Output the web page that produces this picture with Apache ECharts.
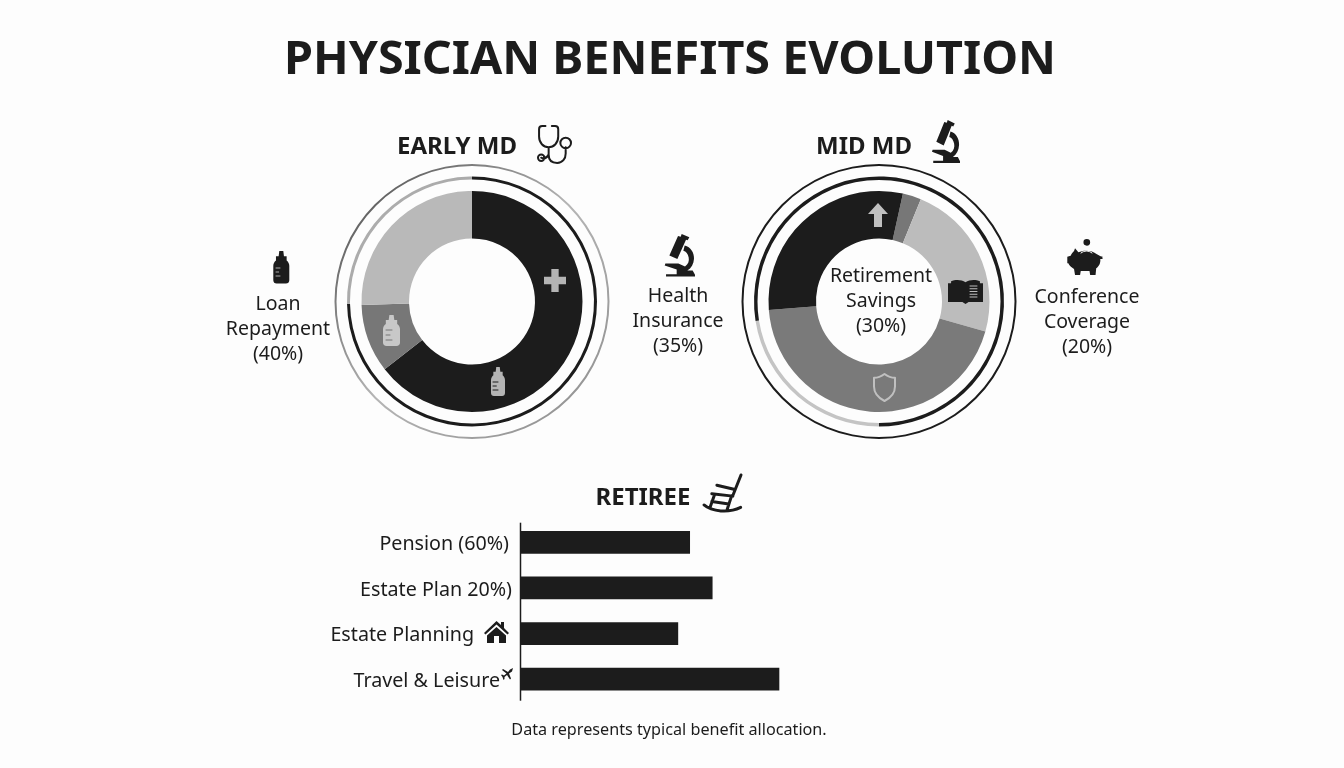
<!DOCTYPE html>
<html>
<head>
<meta charset="utf-8">
<title>Physician Benefits Evolution</title>
<script src="https://cdn.jsdelivr.net/npm/echarts@6/dist/echarts.min.js"></script>
<style>
html, body { margin: 0; padding: 0; background: #fdfdfd; }
#main { width: 1344px; height: 768px; }
</style>
</head>
<body>
<div id="main"></div>
<script>
var FONT = '"Noto Sans", sans-serif';
var INK = '#1c1c1c';

// values (share of the ring, %)
var earlyValues = [64.5, 10, 25.5];
var earlyRingValues = [74.7, 25.3];
var midValues = [2.7, 23.2, 44.4, 29.7];
var midRingValues = [22.5, 77.5];
var retireeCategories = ['Pension (60%)', 'Estate Plan 20%)', 'Estate Planning', 'Travel & Leisure'];
var retireeValues = [60, 68, 55.8, 91.7];

var mainTitle = 'PHYSICIAN BENEFITS EVOLUTION';
var earlyTitle = 'EARLY MD';
var midTitle = 'MID MD';
var retireeTitle = 'RETIREE';
var loanLabel = 'Loan\nRepayment\n(40%)';
var healthLabel = 'Health\nInsurance\n(35%)';
var retirementLabel = 'Retirement\nSavings\n(30%)';
var conferenceLabel = 'Conference\nCoverage\n(20%)';
var footNote = 'Data represents typical benefit allocation.';

// icon outlines
var ICONS = {
    plus: 'M8 0h8v8h8v8h-8v8H8v-8H0V8h8z',
    arrow: 'M10 0L20 11H14V24H6V11H0z',
    bottle: 'M58 18H70L72 34H80V46C85 50 88 56 88 62V105C88 111 84 115 78 115H50C44 115 40 111 40 105V62C40 56 43 50 48 46V34H56z',
    bottleMarks: 'M0 0h6M0 5h4M0 10h6',
    shield: 'M12 1C16 4 19 5 23 5V14C23 21 18 26 12 29C6 26 1 21 1 14V5C5 5 8 4 12 1z',
    book: 'M0 4H3V2C7 0 13 0 17 3C21 0 27 0 31 2V4H34V24H20L17 26L14 24H0zM5 4C8 2 13 2 16 5V21C13 19 9 19 5 20zM18 5C21 2 26 2 29 4V20C25 19 21 19 18 21z',
    bookLines: 'M0 0h8M0 3.5h8M0 7h8M0 10.5h8M0 14h8',
    stethoscope: 'M8 2H5C3 2 2 3 2 5V12C2 18 6 22 11 22C16 22 20 18 20 12V5C20 3 19 2 17 2H14M11 22V29C11 34 14 37 19 37C24 37 27 33 27 28V22M32 18a5 5 0 1 0-10 0a5 5 0 1 0 10 0zM11 29C9 33 6 33 4 32M7 32a3 3 0 1 0-6 0a3 3 0 1 0 6 0z',
    microscope: 'M95 28L118 38L113 47L108 45L82 103L58 92L84 34L92 36zM104 62C122 66 133 84 132 102C131 118 124 130 112 137H128L135 150V155H48V148H80V134L44 122L46 116H85L105 125C115 118 118 108 116 98C114 88 108 80 100 78z',
    piggy: 'M75 40L85 52C100 45 125 45 140 58C148 62 152 66 156 64L157 72L150 72C152 85 145 95 138 100L136 120H120L118 108H92L90 120H75L72 102C65 98 58 92 55 85H52V65L62 62C65 55 70 50 72 48zM110 12a10 10 0 1 0 .01 0z',
    piggySlot: 'M0 2C3 0 7 0 10 2',
    house: 'M12.5 0L17 4V1H20V7L25 12L23.5 13.5L12.5 3.5L1.5 13.5L0 12zM12.5 6L22 14.5V22H15V15H10V22H3V14.5z',
    plane: 'M12 0L11 3.5L8 5.5L10 10.5L9 11.5L6 7L3.5 9V11L2.5 12L1.5 9L0 7L1 6.5L3 7.5L5.5 5.5L1 2L2 1L7 4L9 1.5z',
    chair: 'M136 20L112 80M65 50L115 62M50 75L112 82M58 78L45 115M108 82L95 122M27 108C50 128 100 132 135 115M50 98L100 105'
};

// name, x, y, w, h, fill, stroke, line width
var iconList = [
    ['stethoscope', 538, 126, 33, 37, 'none', INK, 2],
    ['microscope', 932, 120, 28, 43, INK],
    ['plus', 544, 269, 22, 23, '#b4b4b4'],
    ['bottle', 383, 315, 17, 31, '#c8c8c8'],
    ['bottleMarks', 386, 330, 6, 10, 'none', '#777777', 1],
    ['bottle', 491, 367, 14, 29, '#b4b4b4'],
    ['bottleMarks', 493, 382, 5, 8, 'none', INK, 1],
    ['bottle', 273.3, 251, 16, 32.5, INK],
    ['bottleMarks', 276, 268, 4, 8, 'none', '#aaaaaa', 1],
    ['microscope', 664.7, 234, 30.3, 42.5, INK],
    ['piggy', 1067.3, 239, 35.3, 36, INK],
    ['piggySlot', 1081, 251, 11, 2, 'none', '#fdfdfd', 1],
    ['arrow', 868, 203, 20, 24, '#c0c0c0'],
    ['book', 948, 280, 35, 24, INK],
    ['bookLines', 970, 286, 7, 11, 'none', '#bcbcbc', 1],
    ['shield', 874, 374, 21, 27, 'none', '#c0c0c0', 2],
    ['chair', 704, 475, 37, 36, 'none', INK, 3],
    ['house', 484, 621, 25, 22, INK],
    ['plane', 501, 668, 12, 12, INK]
];

function caption(text, cx, cy, size, weight, lineHeight, color) {
    return {
        text: text,
        left: cx,
        top: cy,
        textAlign: 'center',
        textVerticalAlign: 'middle',
        padding: 0,
        textStyle: {
            fontFamily: FONT,
            fontSize: size,
            fontWeight: weight,
            lineHeight: lineHeight || size * 1.2,
            color: color || INK
        }
    };
}

function renderIcon(params) {
    var ic = iconList[params.dataIndex];
    return {
        type: 'path',
        silent: true,
        shape: { pathData: ICONS[ic[0]], layout: 'cover', x: ic[1], y: ic[2], width: ic[3], height: ic[4] },
        style: {
            fill: ic[5] || 'none',
            stroke: ic[6] || 'none',
            lineWidth: ic[7] || 0,
            lineCap: 'round',
            lineJoin: 'round'
        }
    };
}

function ring(center, radius, values, colors, startAngle) {
    return {
        type: 'pie',
        silent: true,
        center: center,
        radius: radius,
        startAngle: startAngle,
        clockwise: true,
        animation: false,
        label: { show: false },
        labelLine: { show: false },
        itemStyle: { borderWidth: 0 },
        data: values.map(function (v, i) {
            return { value: v, itemStyle: { color: colors[i] } };
        })
    };
}

function fade(a, b, c) {
    return {
        type: 'linear', x: 0, y: 0, x2: 1, y2: 1,
        colorStops: [{ offset: 0, color: a }, { offset: 0.5, color: b }, { offset: 1, color: c }]
    };
}

var EARLY_C = [472, 301.5];
var MID_C = [879, 301.5];

var myChart = echarts.init(document.getElementById('main'), null, { renderer: 'canvas' });

var labelRight = { a: 12, b: 9, c: 47, d: 21 };
var labelKeys = ['a', 'b', 'c', 'd'];
var labelRich = {};
labelKeys.forEach(function (k) {
    labelRich[k] = {
        fontFamily: FONT, fontSize: 19.7, color: INK,
        padding: [4, labelRight[k] - 8, 0, 0]
    };
});

var option = {
    backgroundColor: '#fdfdfd',
    animation: false,
    title: [
        caption(mainTitle, 670, 61, 46.7, 'bold'),
        caption(earlyTitle, 457, 147.5, 24, 'bold'),
        caption(midTitle, 864, 147.5, 24, 'bold'),
        caption(retireeTitle, 643, 498.5, 24, 'bold'),
        caption(loanLabel, 278, 329, 19.5, 'normal', 25),
        caption(healthLabel, 678, 321, 19.5, 'normal', 25),
        caption(retirementLabel, 881, 301, 19.5, 'normal', 25),
        caption(conferenceLabel, 1087, 322, 19.5, 'normal', 25),
        caption(footNote, 669, 730, 16.2, 'normal')
    ],
    grid: { left: 521, top: 519.5, width: 281.7, height: 182.5, containLabel: false },
    xAxis: { type: 'value', min: 0, max: 100, show: false },
    yAxis: {
        type: 'category',
        inverse: true,
        data: retireeCategories,
        axisLine: { show: false },
        axisTick: { show: false },
        axisLabel: {
            margin: 8,
            formatter: function (value, i) {
                return '{' + labelKeys[i] + '|' + value + '}';
            },
            rich: labelRich
        }
    },
    series: [
        ring(EARLY_C, [135.5, 137.5], [1], [fade('#444444', '#b5b5b5', '#8a8a8a')], 90),
        ring(EARLY_C, [122, 125], earlyRingValues, [INK, fade('#b0b0b0', '#aaaaaa', '#d0d0d0')], 90),
        ring(EARLY_C, [63, 110.5], earlyValues, [INK, '#777777', '#b9b9b9'], 90),
        ring(MID_C, [135.5, 137.5], [1], [INK], 90),
        ring(MID_C, [121.5, 125], midRingValues, ['#c4c4c4', INK], -90),
        ring(MID_C, [63, 110.5], midValues, ['#777777', '#bcbcbc', '#7a7a7a', INK], 77.5),
        {
            type: 'bar',
            silent: true,
            barWidth: 22.7,
            itemStyle: { color: INK },
            data: retireeValues
        },
        {
            type: 'custom',
            coordinateSystem: 'none',
            silent: true,
            z: 10,
            renderItem: renderIcon,
            data: iconList.map(function (ic) { return ic[0]; })
        }
    ],
    graphic: [
        { type: 'line', silent: true, shape: { x1: 520.5, y1: 522.7, x2: 520.5, y2: 700.7 }, style: { stroke: INK, lineWidth: 1.5 } }
    ]
};

myChart.setOption(option);
</script>
</body>
</html>
